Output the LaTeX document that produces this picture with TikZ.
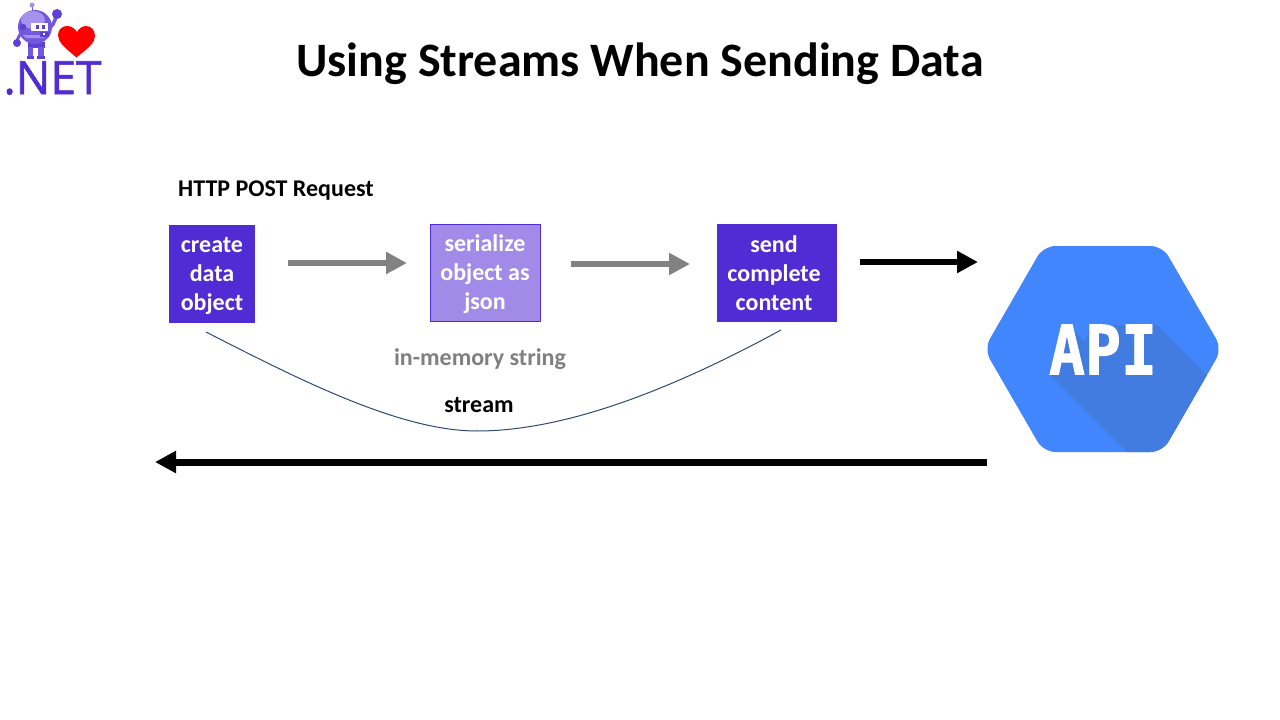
\documentclass[tikz,border=0pt]{standalone}
\usepackage{fontspec}
\setmainfont{Carlito}
\newfontfamily\logofont[FakeBold=1.3]{Open Sans}
\newfontfamily\apifont[UprightFont=* Bold,FakeBold=1.5]{DejaVu Sans Mono}
\usetikzlibrary{arrows.meta}
\definecolor{netv}{HTML}{512BD4}
\definecolor{lightv}{HTML}{A28BE8}
\definecolor{robo}{HTML}{7458DB}
\definecolor{robod}{HTML}{5F3FD6}
\definecolor{robol}{HTML}{A393EC}
\definecolor{apiblue}{HTML}{4286FD}
\definecolor{apidark}{HTML}{437CE0}
\definecolor{curvec}{HTML}{2F4A70}
\tikzset{
  x=1pt,y=-1pt,
  boxtxt/.style={font=\fontsize{24}{29}\selectfont\bfseries,text=white,align=center,inner sep=0pt},
  stepdark/.style={fill=netv,draw=none},
  steplight/.style={fill=lightv,draw=netv,line width=1pt},
  grayarrow/.style={draw=gray!98,line width=6pt,-{Triangle[length=21pt,width=21pt]}},
  blackarrow/.style={draw=black,line width=6pt,-{Triangle[length=21pt,width=21pt]}},
  lbl/.style={font=\fontsize{24}{28}\selectfont\bfseries,inner sep=0pt},
}
\begin{document}
\begin{tikzpicture}
\useasboundingbox (0,0) rectangle (1280,720);
\fill[white] (0,0) rectangle (1280,720);
% title
\node[font=\fontsize{48}{52}\selectfont\bfseries,inner sep=0pt] (title) at (640,64) {Using Streams When Sending Data};
% logo robot
\draw[robo,line width=3pt,line cap=round] (23,30) .. controls (20,35) and (17,38) .. (17,43);
\draw[robo,line width=3.5pt,line cap=round] (47,30) .. controls (52,27) and (55,22) .. (56,16);
\fill[robod] (17,43) circle (4);
\fill[robod] (57,14) circle (5);
\fill[robod] (28,42) rectangle (45,48);
\fill[robo] (28,47) rectangle (33,57);
\fill[robo] (38,47) rectangle (44,57);
\fill[robod] (27,56) rectangle (34,59);
\fill[robod] (37,56) rectangle (45,59);
\fill[robo] (31.5,5) rectangle (33,11);
\fill[robol] (32,5) circle (2.5);
\fill[robo] (35,27) circle (17);
\fill[robol] (33,20) ellipse (12 and 9);
\fill[robol] (23,35) -- (46,35) -- (43,38) -- (26,38) -- cycle;
\fill[robod] (23,27) circle (3.2);
\fill[white] (31,23) rectangle (48,31);
\fill[robod] (36,25) rectangle (39,29);
\fill[robod] (42,25) rectangle (45,29);
\fill[robod] (40,31.5) rectangle (49,37);
\fill[white] (43,33) rectangle (45,35);
% heart
\fill[red] (76.5,57.5) .. controls (64,47) and (58,42) .. (58,35)
  .. controls (58,29) and (63,26) .. (67,26)
  .. controls (72,26) and (75,29) .. (77,32)
  .. controls (79,28) and (83,26) .. (86,26)
  .. controls (91,26) and (95,30) .. (95,36)
  .. controls (95,43) and (88,48) .. (76.5,57.5) -- cycle;
\node[font=\fontsize{46}{47}\selectfont\logofont,text=netv,inner sep=0pt] (net) at (52.5,78) {.NET};
% boxes
\node[stepdark,minimum width=86pt,minimum height=98pt,inner sep=0pt] (create) at (212,274) {};
\node[boxtxt] (createt) at (212,276) {create\\data\\object};
\node[steplight,minimum width=110pt,minimum height=97pt,inner sep=0pt] (serial) at (485.5,273) {};
\node[boxtxt] (serialt) at (485,274.5) {serialize\\object as\\json};
\node[stepdark,minimum width=120pt,minimum height=98pt,inner sep=0pt] (send) at (777,273) {};
\node[boxtxt] (sendt) at (774,273) {send\\complete\\content};
% labels
\node[lbl,anchor=west] (http) at (178,191) {HTTP POST Request};
\node[lbl,text=gray] (mem) at (480,359) {in-memory string};
\node[lbl] (stream) at (479,405) {stream};
% arrows
\coordinate (a1) at (288,263); \coordinate (a2) at (407,263);
\coordinate (b1) at (571,264); \coordinate (b2) at (690,264);
\coordinate (c1) at (860,262); \coordinate (c2) at (978,262);
\coordinate (d1) at (987,462); \coordinate (d2) at (155,462);
\draw[grayarrow] (a1) -- (a2);
\draw[grayarrow] (b1) -- (b2);
\draw[blackarrow] (c1) -- (c2);
\draw[blackarrow,line width=7pt] (d1) -- (d2);
% curve
\coordinate (e1) at (206,332); \coordinate (e2) at (477,431); \coordinate (e3) at (781,330);
\draw[curvec,line width=1pt] (e1) .. controls (300,380) and (400,431) .. (e2)
  .. controls (570,431) and (680,385) .. (e3);
% API hexagon
\def\hexpath{[rounded corners=12pt] (984,349) -- (1043.5,246) -- (1162.5,246) -- (1222,349) -- (1162.5,452) -- (1043.5,452) -- cycle}
\fill[apiblue] \hexpath;
\begin{scope}
\clip \hexpath;
\fill[apidark] (1049,374) -- (1068,325) -- (1085,342) -- (1092,325) -- (1157,325) -- (1210,378) -- (1210,460) -- (1135,460) -- cycle;
\end{scope}
\node[font=\fontsize{68}{68}\selectfont\apifont,text=white,inner sep=0pt,xscale=0.88] (api) at (1103,349.5) {API};
\end{tikzpicture}
\end{document}
